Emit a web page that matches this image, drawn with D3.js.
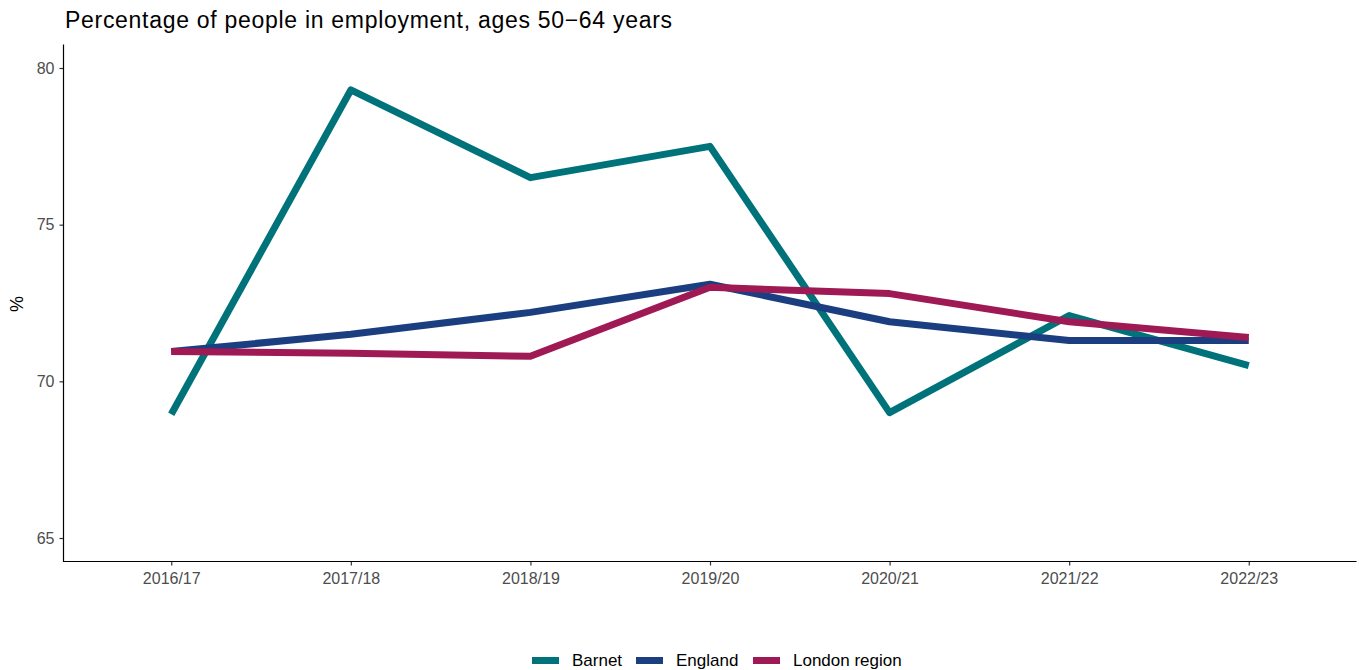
<!DOCTYPE html>
<html><head><meta charset="utf-8">
<script src="https://cdn.jsdelivr.net/npm/d3@7"></script>
<style>body{margin:0;background:#fff}svg{display:block;font-family:"Liberation Sans",Arial,sans-serif}</style>
</head><body><svg id="c" width="1359" height="670"></svg>
<script>
const years = ["2016/17","2017/18","2018/19","2019/20","2020/21","2021/22","2022/23"];
const barnet = [68.95, 79.3, 76.5, 77.5, 69.0, 72.1, 70.5];
const england = [70.95, 71.5, 72.2, 73.1, 71.9, 71.3, 71.3];
const london = [70.95, 70.9, 70.8, 73.0, 72.8, 71.9, 71.4];
const seriesNames = ["Barnet","England","London region"];
const seriesColors = ["#00727a","#1b3e80","#9f1a55"];
const yTicks = [65, 70, 75, 80];
const yLimits = [65, 80];

const svg = d3.select("#c");
const L = 63.5, R = 1356.5, T = 44.5, B = 561.5;
const x = d3.scalePoint().domain(years).range([L, R]).padding(0.6);
const span = yLimits[1]-yLimits[0];
const y = d3.scaleLinear().domain([yLimits[0]-0.05*span, yLimits[1]+0.05*span]).range([B, T]);

const series = [barnet, england, london].map((v,i)=>({name:seriesNames[i], color:seriesColors[i], values:v}));
const line = d3.line().x((d,i)=>x(years[i])).y(d=>y(d));
svg.append("g").selectAll("path").data(series).join("path")
  .attr("d", d=>line(d.values)).attr("fill","none").attr("stroke",d=>d.color)
  .attr("stroke-width",7).attr("stroke-linejoin","round").attr("stroke-linecap","butt");

// axes
const ya = svg.append("g").attr("transform",`translate(${L},0)`)
  .call(d3.axisLeft(y).tickValues(yTicks).tickSize(4).tickPadding(5));
ya.select(".domain").remove();
ya.append("line").attr("x1",0).attr("x2",0).attr("y1",T).attr("y2",B+0.5).attr("stroke","#000").attr("stroke-width",1.2);
ya.selectAll(".tick line").attr("stroke","#333").attr("stroke-width",1.2);
ya.selectAll(".tick text").attr("fill","#4d4d4d").style("font-size","16px").attr("font-family",null);

const xa = svg.append("g").attr("transform",`translate(0,${B})`)
  .call(d3.axisBottom(x).tickSize(4).tickPadding(7.5));
xa.select(".domain").remove();
xa.append("line").attr("x1",L-0.5).attr("x2",R).attr("y1",0).attr("y2",0).attr("stroke","#000").attr("stroke-width",1.2);
xa.selectAll(".tick line").attr("stroke","#333").attr("stroke-width",1.2);
xa.selectAll(".tick text").attr("fill","#4d4d4d").style("font-size","16px").attr("font-family",null);

svg.append("text").attr("x",65).attr("y",28).text("Percentage of people in employment, ages 50\u221264 years")
  .style("font-size","23px").attr("fill","#000")
  .attr("textLength",607).attr("lengthAdjust","spacing");
svg.append("text").attr("transform","translate(23,304) rotate(-90)").attr("text-anchor","middle")
  .text("%").style("font-size","18px").attr("fill","#000");

// legend
const legX = [532, 636, 753];
const lg = svg.append("g");
series.forEach((s,i)=>{
  lg.append("rect").attr("x",legX[i]).attr("y",657).attr("width",27).attr("height",7).attr("fill",s.color);
  lg.append("text").attr("x",legX[i]+40).attr("y",666).text(s.name).style("font-size","17px").attr("fill","#000");
});
</script></body></html>
